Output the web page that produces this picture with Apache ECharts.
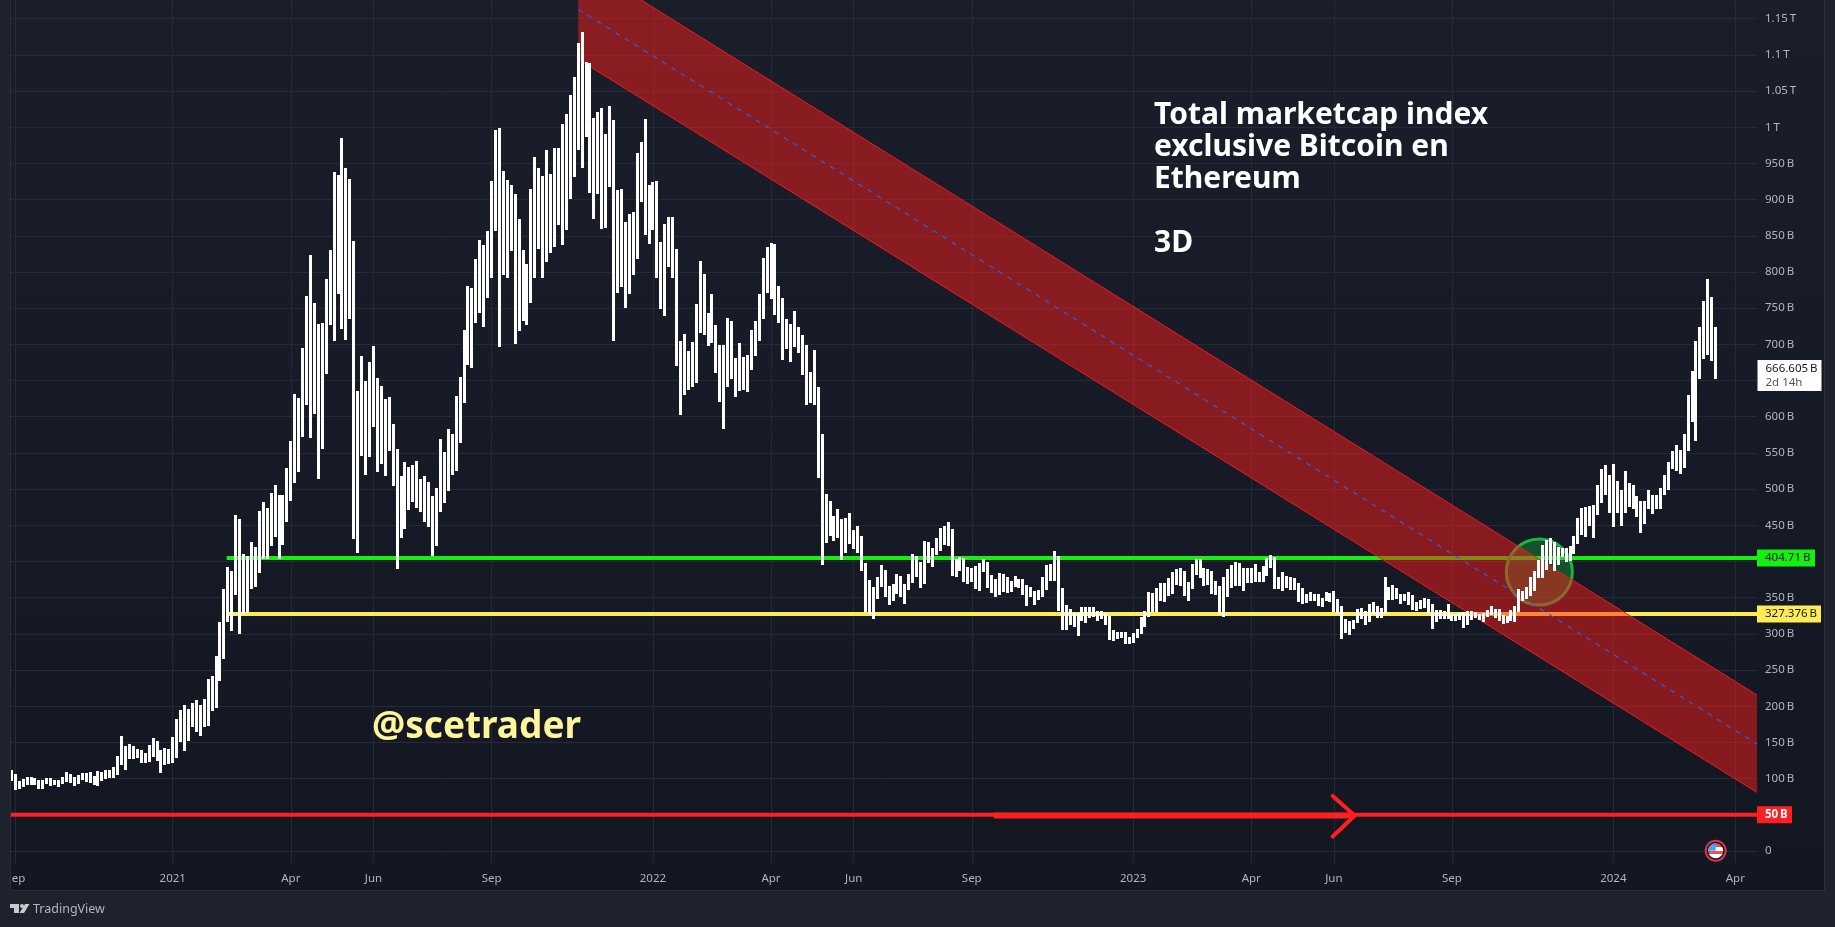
<!DOCTYPE html>
<html>
<head>
<meta charset="utf-8">
<title>Total marketcap index</title>
<style>
  html, body { margin: 0; padding: 0; background: #1e222d; }
  #main { width: 1835px; height: 927px; }
</style>
</head>
<body>
<div id="main"></div>
<script src="https://cdn.jsdelivr.net/npm/echarts@6/dist/echarts.min.js"></script>
<script>
// 3D bars, values in billions
const barHighs = [
  112,106,97,99,102,102,101,98,98,101,
  101,98,98,102,109,106,102,105,108,108,
  109,104,111,109,112,112,116,131,159,145,
  148,145,141,140,135,146,156,152,140,142,
  141,157,182,195,202,196,204,209,202,210,
  238,242,269,316,362,392,387,464,459,410,
  408,427,420,470,482,474,495,506,492,492,
  529,566,631,626,695,767,823,757,728,729,
  790,830,938,934,985,944,928,843,635,684,
  649,676,698,653,642,624,627,590,555,518,
  537,530,533,539,514,518,510,490,501,569,
  551,583,576,629,655,720,781,778,818,844,
  837,857,926,996,999,939,927,920,908,873,
  830,811,915,959,944,932,968,935,971,971,
  1004,1018,1044,1069,1116,1131,1090,1089,1013,1021,
  1026,991,1029,1010,913,915,869,880,883,964,
  979,1011,920,924,926,841,866,876,876,832,
  705,714,691,703,756,815,797,743,770,727,
  699,699,736,732,681,702,682,685,720,732,
  770,819,834,840,839,781,764,735,728,746,
  724,713,699,662,692,641,576,493,484,463,
  472,459,460,467,443,449,435,398,374,365,
  379,395,388,366,369,383,380,369,383,410,
  408,399,428,427,419,432,446,449,455,445,
  403,406,405,392,391,394,398,403,399,381,
  376,384,383,379,373,380,376,376,367,365,
  359,361,379,395,396,414,408,363,340,334,
  329,329,337,337,337,337,332,332,329,325,
  305,303,303,303,296,301,307,323,332,358,
  356,363,370,370,377,385,390,391,387,372,
  396,403,403,391,390,387,373,366,379,390,
  395,399,398,391,391,391,396,385,394,405,
  409,406,379,385,380,379,377,370,363,355,
  358,355,355,350,358,356,359,348,338,320,
  318,319,334,336,332,341,344,338,336,379,
  365,367,363,355,355,358,354,344,347,350,
  348,341,333,333,332,341,327,327,329,330,
  332,332,330,327,329,333,338,334,334,326,
  325,333,338,362,359,365,379,387,402,423,
  430,432,427,420,419,419,421,435,460,474,
  475,477,478,506,528,533,519,535,511,499,
  525,508,506,490,484,484,499,492,492,501,
  519,537,553,561,554,576,630,663,705,724,
  760,790,765,724
]
const barLows = [
  97,84,86,88,91,91,91,86,86,93,
  90,91,88,93,95,94,90,93,98,95,
  94,91,90,97,99,101,101,105,119,112,
  127,127,128,122,122,123,130,124,108,119,
  120,122,128,151,138,152,171,164,159,171,
  173,193,198,235,265,316,304,354,300,327,
  329,362,365,384,403,403,421,434,403,423,
  455,484,508,524,572,616,571,604,514,555,
  659,727,705,770,721,706,735,431,412,546,
  519,544,586,524,535,518,553,504,390,432,
  445,471,482,474,468,455,448,408,421,468,
  481,497,519,525,564,619,671,667,729,743,
  724,764,792,857,696,796,792,829,700,718,
  732,727,757,792,832,792,814,826,834,865,
  837,858,901,931,968,944,986,909,873,908,
  859,861,917,705,771,779,750,770,796,818,
  897,851,839,858,792,749,739,807,792,670,
  602,630,637,641,647,716,713,698,702,660,
  620,583,641,652,627,635,637,634,664,684,
  705,735,771,763,740,729,678,693,676,696,
  688,658,616,619,616,515,395,425,435,428,
  432,402,412,424,417,412,387,330,327,320,
  348,365,351,340,345,355,351,341,361,370,
  379,363,369,398,392,409,414,423,421,380,
  379,387,372,369,372,362,359,385,363,356,
  351,354,358,356,358,365,363,354,338,351,
  340,347,351,361,373,373,332,305,305,312,
  309,297,318,315,322,323,318,320,312,291,
  290,293,294,286,286,287,294,300,309,323,
  330,330,345,344,352,355,367,366,352,345,
  362,381,377,366,367,355,354,327,323,351,
  363,366,366,359,370,370,372,372,372,380,
  391,362,362,359,363,361,361,344,341,343,
  345,345,338,337,345,344,330,327,293,301,
  298,307,315,320,312,316,327,322,322,327,
  347,347,348,341,345,340,333,332,334,336,
  329,307,316,320,320,320,318,318,319,308,
  312,319,322,319,316,323,326,322,318,314,
  315,318,316,330,345,348,352,359,377,377,
  388,396,387,395,406,399,401,410,424,437,
  434,449,432,464,481,492,467,448,467,449,
  467,475,472,461,439,452,472,466,472,472,
  492,499,528,525,521,529,553,593,566,652,
  680,685,677,652
]

// one slot per 3 day bar, the last ones are the empty space on the right
const slotCount = 444
const barDates = []
for (let i = 0; i < slotCount; i++) {
  barDates.push(new Date(Date.UTC(2020, 7, 29 + i * 3)).toISOString().slice(0, 10))
}

// axis ticks
const xTickSlots = [1, 41, 71, 92, 122, 163, 193, 214, 244, 285, 315, 336, 366, 407, 438]
const xTickLabels = ['Sep', '2021', 'Apr', 'Jun', 'Sep', '2022', 'Apr', 'Jun', 'Sep', '2023', 'Apr', 'Jun', 'Sep', '2024', 'Apr']
const yTickValues = [0, 50, 100, 150, 200, 250, 300, 350, 400, 450, 500, 550, 600, 650, 700, 750, 800, 850, 900, 950, 1000, 1050, 1100, 1150]
// 50, 400 and 650 sit under the price tags, the gap in the labels is a thin space
const yTickLabels = ['0', '', '100\u2009B', '150\u2009B', '200\u2009B', '250\u2009B', '300\u2009B', '350\u2009B', '', '450\u2009B', '500\u2009B', '550\u2009B', '600\u2009B', '', '700\u2009B', '750\u2009B', '800\u2009B', '850\u2009B', '900\u2009B', '950\u2009B', '1\u2009T', '1.05\u2009T', '1.1\u2009T', '1.15\u2009T']

// drawings, as [slot, value]
const channelUpper = [[144, 1230], [443.5, 215.5]]
const channelLower = [[144, 1094], [443.5, 81]]
const channelMid = [[144, 1163], [443.5, 148]]
const greenLevel = [[54.7, 404.71], [443.5, 404.71]]
const yellowLevel = [[54.7, 327.376], [443.5, 327.376]]
const redLevel = [[-0.5, 50], [443.5, 50]]
const arrowShaft = [[249.6, 49], [341.3, 49]]
const arrowHead = [[335.7, 76], [341.3, 49], [335.7, 20]]
const breakoutCircle = [[388.2, 385.5]]
const lastClose = [[443.5, 666.605]]

const FONT = '"Noto Sans", sans-serif'
const LABEL_SIZE = 11.5
const BAR_WIDTH = 3
const TAG = { show: true, position: 'right', distance: 0, fontFamily: FONT, fontSize: LABEL_SIZE, height: 17, lineHeight: 17, align: 'left', padding: [0, 0, 0, 8] }

const lineSeries = (data, color, width, z, extra) => Object.assign({
  type: 'line',
  xAxisIndex: 0,
  yAxisIndex: 0,
  data,
  z,
  silent: true,
  symbol: 'none',
  lineStyle: { color, width }
}, extra)

const myChart = echarts.init(document.getElementById('main'), null, { renderer: 'canvas' })

const option = {
  animation: false,
  backgroundColor: new echarts.graphic.LinearGradient(0, 0, 0, 1, [
    { offset: 0, color: '#1a1e2b' },
    { offset: 0.96, color: '#131722' }
  ]),
  grid: { left: 9.4, width: 1747.6, top: 0, height: 863 },
  xAxis: [
    {
      // labels, gridlines and all drawings use this one
      type: 'value',
      min: -0.5,
      max: 443.5,
      axisLine: { show: false },
      axisTick: { show: false, customValues: xTickSlots },
      splitLine: { show: true, lineStyle: { color: '#262a35', width: 1 } },
      axisLabel: {
        customValues: xTickSlots,
        margin: 10,
        color: '#b2b5be',
        fontFamily: FONT,
        fontSize: LABEL_SIZE,
        formatter: (v) => xTickLabels[xTickSlots.indexOf(v)]
      }
    },
    { type: 'category', data: barDates, show: false, boundaryGap: true }
  ],
  yAxis: {
    type: 'value',
    position: 'right',
    min: -16.58,
    max: 1175.8,
    axisLine: { show: false },
    axisTick: { show: false, customValues: yTickValues },
    splitLine: { show: true, lineStyle: { color: '#262a35', width: 1 } },
    axisLabel: {
      customValues: yTickValues,
      margin: 8,
      padding: [2, 0, 0, 0],
      color: '#b2b5be',
      fontFamily: FONT,
      fontSize: LABEL_SIZE,
      formatter: (v) => yTickLabels[yTickValues.indexOf(v)]
    }
  },
  series: [
    lineSeries(greenLevel, '#14f010', 4, 2, {
      endLabel: Object.assign({}, TAG, { formatter: '404.71\u2009B', color: '#131722', backgroundColor: '#14f010', width: 50 })
    }),
    lineSeries(yellowLevel, '#ffeb55', 4, 2, {
      endLabel: Object.assign({}, TAG, { formatter: '327.376\u2009B', color: '#131722', backgroundColor: '#ffeb55', width: 56 })
    }),
    lineSeries(redLevel, '#ff1e20', 4, 2, {
      endLabel: Object.assign({}, TAG, { formatter: '50\u2009B', color: '#ffffff', fontWeight: 'bold', backgroundColor: '#ff1e20', width: 27 })
    }),
    lineSeries(arrowShaft, '#ff1e20', 6, 2),
    lineSeries(arrowHead, '#ff1e20', 4, 2, { lineStyle: { color: '#ff1e20', width: 4, cap: 'round', join: 'miter' } }),
    {
      // green circle round the breakout
      type: 'scatter',
      xAxisIndex: 0,
      yAxisIndex: 0,
      data: breakoutCircle,
      z: 3,
      silent: true,
      symbol: 'circle',
      symbolSize: 66,
      itemStyle: { color: 'rgba(22,200,60,0.33)', borderColor: '#1eb441', borderWidth: 3, opacity: 1 }
    },
    {
      // red channel, goes over the levels and under the bars
      type: 'custom',
      xAxisIndex: 0,
      yAxisIndex: 0,
      data: channelUpper,
      z: 4,
      silent: true,
      clip: true,
      renderItem: (params, api) => {
        if (params.dataIndex !== 0) return null
        const points = channelUpper.concat(channelLower.slice().reverse()).map((p) => api.coord(p))
        return { type: 'polygon', shape: { points }, style: { fill: 'rgba(255,29,25,0.49)' } }
      }
    },
    lineSeries(channelUpper, '#e81c22', 1, 4),
    lineSeries(channelLower, '#e81c22', 1, 4),
    lineSeries(channelMid, '#2c5fe8', 1, 4, { lineStyle: { color: '#2c5fe8', width: 1.2, type: [5, 6] } }),
    {
      // all bars are plain white high to low blocks, snapped to whole pixels
      type: 'custom',
      xAxisIndex: 1,
      yAxisIndex: 0,
      data: barHighs.map((h, i) => [barDates[i], barLows[i], h]),
      encode: { x: 0, y: [1, 2] },
      z: 6,
      silent: true,
      clip: true,
      renderItem: (params, api) => {
        const low = api.coord([api.value(0), api.value(1)])
        const high = api.coord([api.value(0), api.value(2)])
        const x = Math.round(low[0] - BAR_WIDTH / 2)
        const top = Math.round(high[1])
        return {
          type: 'rect',
          shape: { x, y: top, width: BAR_WIDTH, height: Math.round(low[1]) - top },
          style: { fill: '#ffffff' }
        }
      }
    },
    {
      // current price tag
      type: 'scatter',
      xAxisIndex: 0,
      yAxisIndex: 0,
      data: lastClose,
      z: 7,
      silent: true,
      symbolSize: 1,
      itemStyle: { color: 'rgba(0,0,0,0)', opacity: 1 },
      label: {
        show: true,
        position: 'right',
        distance: 0,
        offset: [0, 7],
        formatter: '{a|666.605\u2009B}\n{b|2d 14h}',
        backgroundColor: '#ffffff',
        opacity: 1,
        width: 56,
        padding: [1, 0, 1, 8],
        align: 'left',
        rich: {
          a: { color: '#131722', fontFamily: FONT, fontSize: LABEL_SIZE, lineHeight: 15 },
          b: { color: '#50535e', fontFamily: FONT, fontSize: LABEL_SIZE, lineHeight: 14 }
        }
      }
    }
  ],
  graphic: [
    // outer frame
    { type: 'rect', z: 100, shape: { x: 0, y: 0, width: 10, height: 927 }, style: { fill: '#1e222d' } },
    { type: 'rect', z: 100, shape: { x: 0, y: 891, width: 1835, height: 36 }, style: { fill: '#1e222d' } },
    { type: 'rect', z: 100, shape: { x: 1825, y: 0, width: 10, height: 927 }, style: { fill: '#1e222d' } },
    { type: 'rect', z: 101, shape: { x: 10, y: 0, width: 1, height: 891 }, style: { fill: '#2a2e39' } },
    { type: 'rect', z: 101, shape: { x: 10, y: 890, width: 1815, height: 1 }, style: { fill: '#2a2e39' } },
    { type: 'rect', z: 101, shape: { x: 1824, y: 0, width: 1, height: 891 }, style: { fill: '#2a2e39' } },

    // notes
    {
      type: 'text',
      z: 50,
      x: 1154,
      y: 99,
      style: {
        text: 'Total marketcap index\nexclusive Bitcoin en\nEthereum\n\n3D',
        fill: '#ffffff',
        font: 'bold 30px "Noto Sans", sans-serif',
        lineHeight: 32
      }
    },
    {
      type: 'text',
      z: 50,
      x: 372,
      y: 709,
      style: { text: '@scetrader', fill: '#fff59d', font: 'bold 37px "Noto Sans", sans-serif' }
    },

    // flag icon on the time scale
    { type: 'circle', z: 50, shape: { cx: 1715.7, cy: 850.7, r: 10 }, style: { fill: '#131722', stroke: '#d8334a', lineWidth: 2 } },
    {
      type: 'circle',
      z: 51,
      shape: { cx: 1715.7, cy: 850.7, r: 7.5 },
      style: {
        fill: new echarts.graphic.LinearGradient(0, 0, 0, 1, [
          { offset: 0, color: '#ef5350' }, { offset: 0.25, color: '#ef5350' },
          { offset: 0.25, color: '#ffffff' }, { offset: 0.5, color: '#ffffff' },
          { offset: 0.5, color: '#ef5350' }, { offset: 0.75, color: '#ef5350' },
          { offset: 0.75, color: '#ffffff' }, { offset: 1, color: '#ffffff' }
        ])
      }
    },
    {
      type: 'sector',
      z: 52,
      shape: { cx: 1715.7, cy: 850.7, r: 7.5, r0: 0, startAngle: Math.PI, endAngle: Math.PI * 1.5 },
      style: { fill: '#42a5f5' }
    },

    // TradingView mark
    { type: 'polygon', z: 102, shape: { points: [[10, 904], [19, 904], [19, 913], [14, 913], [14, 908], [10, 908]] }, style: { fill: '#c8cad0' } },
    { type: 'circle', z: 102, shape: { cx: 22, cy: 906, r: 2 }, style: { fill: '#c8cad0' } },
    { type: 'polygon', z: 102, shape: { points: [[25, 904], [29.5, 904], [24, 913], [19.5, 913]] }, style: { fill: '#c8cad0' } },
    {
      type: 'text',
      z: 102,
      x: 33,
      y: 903,
      style: { text: 'TradingView', fill: '#b2b5be', font: '12.5px "Noto Sans", sans-serif' }
    }
  ]
}

option && myChart.setOption(option)
</script>
</body>
</html>
